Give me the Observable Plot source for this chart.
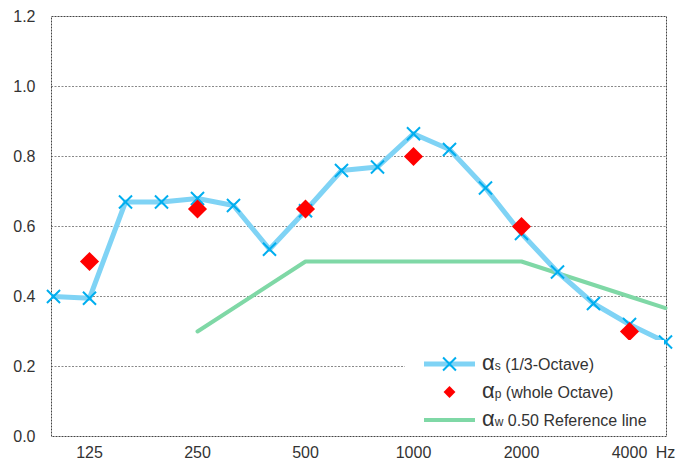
<!DOCTYPE html>
<html>
<head>
<meta charset="utf-8">
<script src="https://cdn.jsdelivr.net/npm/d3@7"></script>
<script src="https://cdn.jsdelivr.net/npm/@observablehq/plot@0.6"></script>
<style>
  html, body { margin: 0; padding: 0; background: #fff; }
  #chart { width: 686px; height: 467px; }
</style>
</head>
<body>
<div id="chart"></div>
<script>
// 1/3-octave band centre frequencies (Hz)
const bands = ["100","125","160","200","250","315","400","500","630","800","1000","1250","1600","2000","2500","3150","4000","5000"];
// alpha_s, 1/3-octave
const alphaS = [0.40, 0.395, 0.67, 0.67, 0.68, 0.66, 0.535, 0.645, 0.76, 0.77, 0.865, 0.82, 0.71, 0.58, 0.47, 0.38, 0.32, 0.27];
// alpha_p, whole octave
const octaves = ["125","250","500","1000","2000","4000"];
const alphaP = [0.50, 0.65, 0.65, 0.80, 0.60, 0.30];
// alpha_w 0.50 reference line
const refBands = ["250","500","1000","2000","4000","5000"];
const refVals = [0.30, 0.50, 0.50, 0.50, 0.40, 0.367];
// axes
const xTicks = ["125","250","500","1000","2000","4000","5000"];
const xTickLabels = ["125","250","500","1000","2000","4000","Hz"];
const yTicks = [0, 0.2, 0.4, 0.6, 0.8, 1.0, 1.2];
const gridVals = [0.2, 0.4, 0.6, 0.8, 1.0];
const legendLabels = [
  {sym: "α", sub: "s", text: " (1/3-Octave)"},
  {sym: "α", sub: "p", text: " (whole Octave)"},
  {sym: "α", sub: "w", text: " 0.50 Reference line"}
];

const sData = bands.map((b, i) => ({f: b, v: alphaS[i]}));
const pData = octaves.map((b, i) => ({f: b, v: alphaP[i]}));
const rData = refBands.map((b, i) => ({f: b, v: refVals[i]}));

const FONT = "'Liberation Sans Narrow', 'Arial Narrow', 'Liberation Sans', Arial, sans-serif";
const BLUE_LINE = "#7fd3f5", BLUE_MARK = "#00aeef", RED = "#ff0000", GREEN = "#7fd8a6";

const plot = Plot.plot({
  width: 686,
  height: 467,
  marginLeft: 51,
  marginRight: 20,
  marginTop: 16,
  marginBottom: 31,
  style: {fontFamily: FONT, fontSize: "16px", color: "#333", background: "#fff"},
  x: {type: "point", domain: bands, padding: 0, insetLeft: 1, insetRight: 1, label: null},
  y: {domain: [0, 1.2], label: null},
  marks: [
    Plot.gridY(gridVals, {stroke: "#888", strokeOpacity: 1, strokeDasharray: "2,1.5", strokeWidth: 1}),
    Plot.frame({stroke: "#444", strokeDasharray: "2,1", strokeWidth: 1}),
    Plot.axisY({ticks: yTicks, tickFormat: d3.format(".1f"), tickSize: 0, tickPadding: 16, fontSize: 16, label: null}),
    Plot.axisX({ticks: xTicks, tickFormat: d => xTickLabels[xTicks.indexOf(d)], tickSize: 0, tickPadding: 10, fontSize: 16, label: null}),
    Plot.line(rData, {x: "f", y: "v", stroke: GREEN, strokeWidth: 4}),
    Plot.line(sData, {x: "f", y: "v", stroke: BLUE_LINE, strokeWidth: 5}),
    Plot.dot(sData, {x: "f", y: "v", symbol: "times", r: 6, stroke: BLUE_MARK, strokeWidth: 2}),
    Plot.dot(pData, {x: "f", y: "v", symbol: "diamond2", r: 8.6, fill: RED, stroke: "none"})
  ]
});
document.getElementById("chart").appendChild(plot);

// legend (inside plot area, bottom right, white background)
const svg = d3.select(plot);
const lg = svg.append("g").attr("font-family", FONT).attr("text-anchor", "start");
lg.append("rect").attr("x", 405).attr("y", 340).attr("width", 259).attr("height", 94).attr("fill", "#fff");
const rowsY = [364, 392, 420];
const lx0 = 424, lx1 = 475, lxm = 449.5, tx = 482;
// row 1
lg.append("line").attr("x1", lx0).attr("x2", lx1).attr("y1", rowsY[0]).attr("y2", rowsY[0])
  .attr("stroke", BLUE_LINE).attr("stroke-width", 5);
lg.append("path").attr("d", d3.symbol(d3.symbolTimes, 110)()).attr("transform", `translate(${lxm},${rowsY[0]})`)
  .attr("stroke", BLUE_MARK).attr("stroke-width", 2).attr("fill", "none");
// row 2
lg.append("path").attr("d", d3.symbol(d3.symbolDiamond2, 90)()).attr("transform", `translate(${lxm},${rowsY[1]})`)
  .attr("fill", RED);
// row 3
lg.append("line").attr("x1", lx0).attr("x2", lx1).attr("y1", rowsY[2]).attr("y2", rowsY[2])
  .attr("stroke", GREEN).attr("stroke-width", 4);
legendLabels.forEach((l, i) => {
  const t = lg.append("text").attr("x", tx).attr("y", rowsY[i] + 6).attr("fill", "#333").attr("font-size", 16);
  t.append("tspan").attr("font-size", 22).text(l.sym);
  t.append("tspan").attr("font-size", 12).text(l.sub);
  t.append("tspan").attr("font-size", 16).text(l.text);
});
</script>
</body>
</html>
